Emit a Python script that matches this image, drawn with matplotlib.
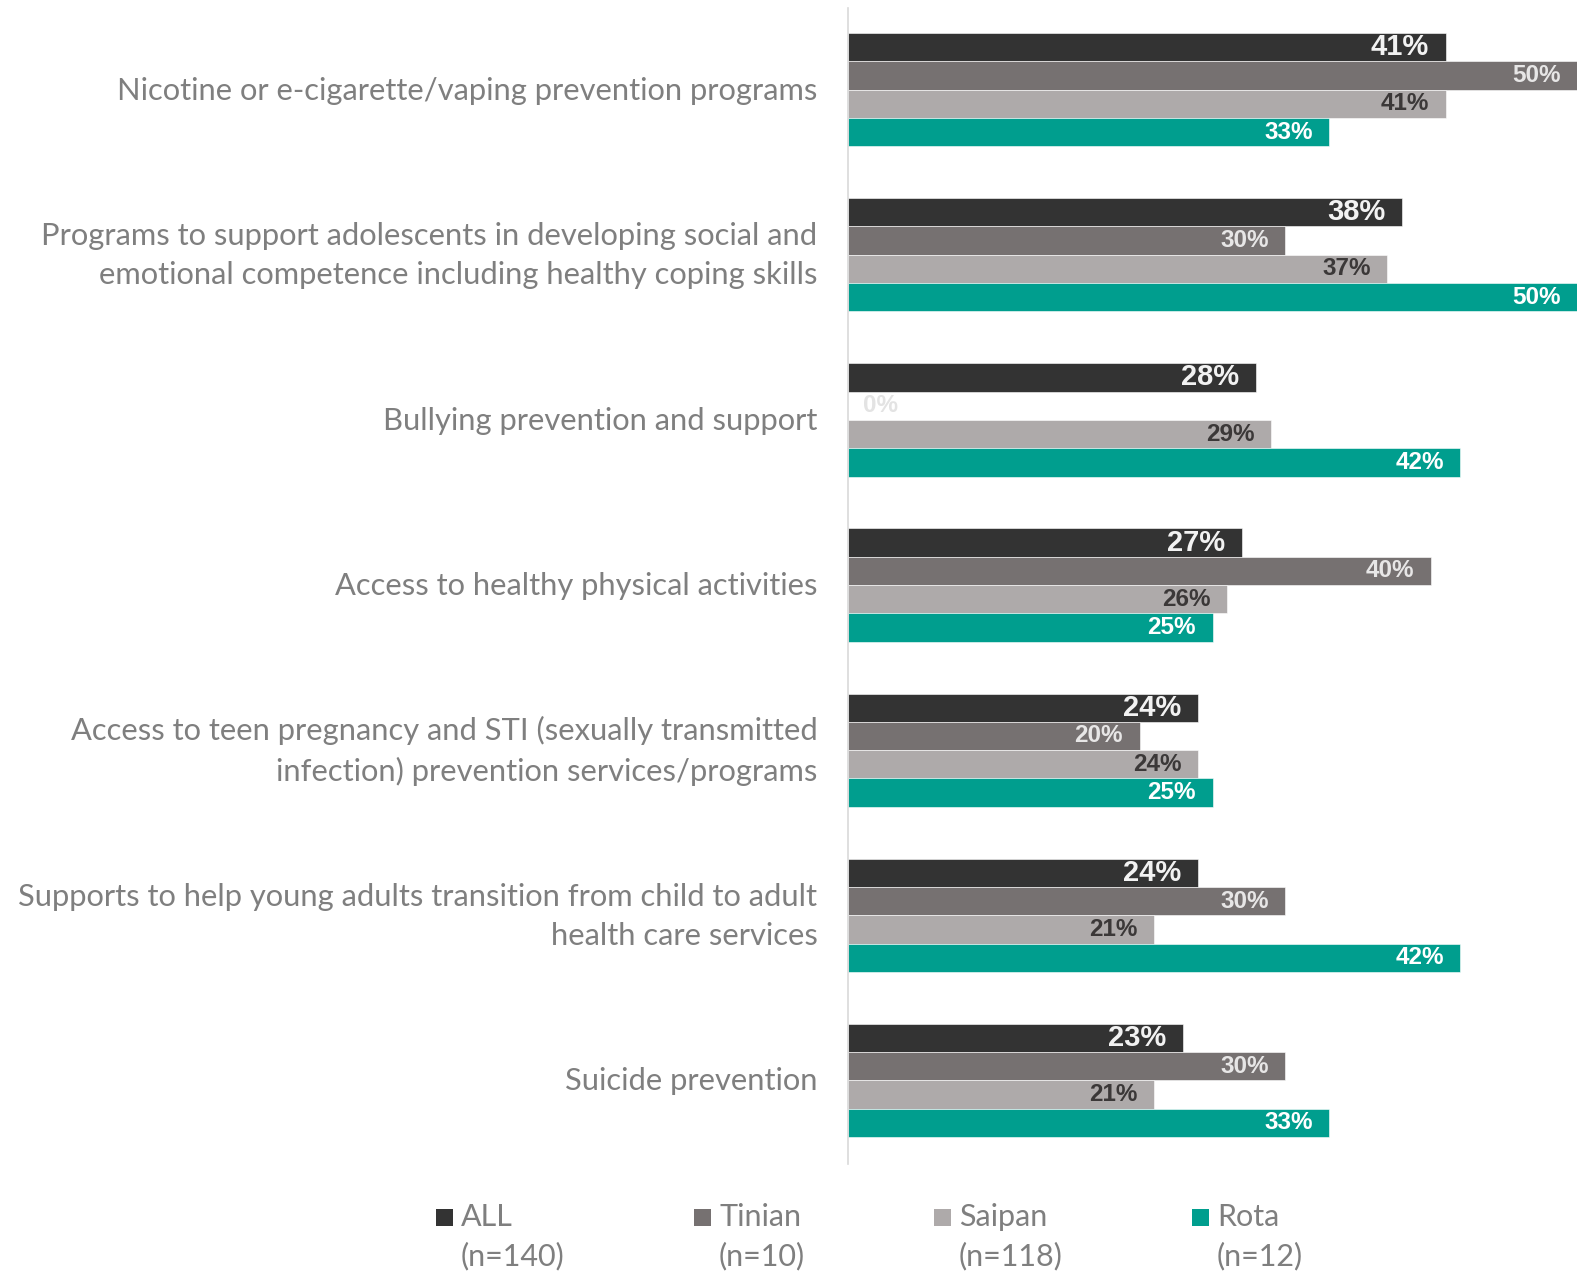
import matplotlib
matplotlib.use("Agg")
import matplotlib.pyplot as plt
from matplotlib import font_manager
from matplotlib.patches import Rectangle
import numpy as np

# ---- data ----
categories = [
    "Nicotine or e-cigarette/vaping prevention programs",
    "Programs to support adolescents in developing social and\nemotional competence including healthy coping skills",
    "Bullying prevention and support",
    "Access to healthy physical activities",
    "Access to teen pregnancy and STI (sexually transmitted\ninfection) prevention services/programs",
    "Supports to help young adults transition from child to adult\nhealth care services",
    "Suicide prevention",
]
series_names = ["ALL", "Tinian", "Saipan", "Rota"]
series_n = ["(n=140)", "(n=10)", "(n=118)", "(n=12)"]
all_vals = [41, 38, 28, 27, 24, 24, 23]
tinian_vals = [50, 30, 0, 40, 20, 30, 30]
saipan_vals = [41, 37, 29, 26, 24, 21, 21]
rota_vals = [33, 50, 42, 25, 25, 42, 33]

series_vals = [all_vals, tinian_vals, saipan_vals, rota_vals]
colors = ["#333333", "#767171", "#AEAAAA", "#009E8E"]
label_colors = ["#F2F2F2", "#E7E6E6", "#3B3838", "#FFFFFF"]
label_sizes = [21, 17.5, 17.5, 17.5]

available = {f.name for f in font_manager.fontManager.ttflist}
label_family = "Liberation Sans" if "Liberation Sans" in available else "DejaVu Sans"
text_family = "Lato" if "Lato" in available else "DejaVu Sans"

W, H = 1577, 1272
fig = plt.figure(figsize=(W / 100, H / 100), dpi=100)
ax_left, ax_right = 848 / W, 1.0
ax_top, ax_bottom = 1 - 8 / H, 1 - 1164 / H
ax = fig.add_axes([ax_left, ax_bottom, ax_right - ax_left, ax_top - ax_bottom])

n_cat = len(categories)
y = np.arange(n_cat)
h = 0.1715
for k, (vals, col) in enumerate(zip(series_vals, colors)):
    pos = y + (k - 1.5) * h
    ax.barh(pos, vals, height=h, color=col, edgecolor="white", linewidth=0.4)
    for p, v in zip(pos, vals):
        if v == 0:
            ax.annotate(f"{v}%", (0, p), xytext=(11, 0), textcoords="offset points",
                        ha="left", va="center", fontsize=label_sizes[k], fontweight="bold",
                        color="#E3E3E3", family=label_family)
        else:
            ax.annotate(f"{v}%", (v, p), xytext=(-12, 0), textcoords="offset points",
                        ha="right", va="center", fontsize=label_sizes[k], fontweight="bold",
                        color=label_colors[k], family=label_family)

ax.set_xlim(0, 50)
ax.set_ylim(n_cat - 1 + 0.506, -0.494)
ax.set_yticks([])
ax.xaxis.set_visible(False)
for s in ["top", "right", "bottom"]:
    ax.spines[s].set_visible(False)
ax.spines["left"].set_color("#D9D9D9")
ax.spines["left"].set_linewidth(1.2)

# category labels, right-aligned left of the axis
for yi, cat in zip(y, categories):
    ax.annotate(cat, (0, yi), xytext=(-22, -0.7), textcoords="offset points",
                ha="right", va="center", multialignment="right",
                fontsize=22.2, color="#7F7F7F", family=text_family, linespacing=1.48,
                annotation_clip=False)

# legend drawn in figure pixels
leg_x = [436, 694, 934, 1192]
sq = 17
for xk, name, nn, col in zip(leg_x, series_names, series_n, colors):
    fig.add_artist(Rectangle((xk / W, 1 - 1226 / H), sq / W, sq / H,
                             transform=fig.transFigure, color=col, lw=0))
    fig.text((xk + 25) / W, 1 - 1217 / H, name, fontsize=22, color="#7F7F7F",
             family=text_family, ha="left", va="center")
    fig.text((xk + 25) / W, 1 - 1256 / H, nn, fontsize=22, color="#7F7F7F",
             family=text_family, ha="left", va="center")

fig.savefig("out.png", dpi=100, facecolor="white")
